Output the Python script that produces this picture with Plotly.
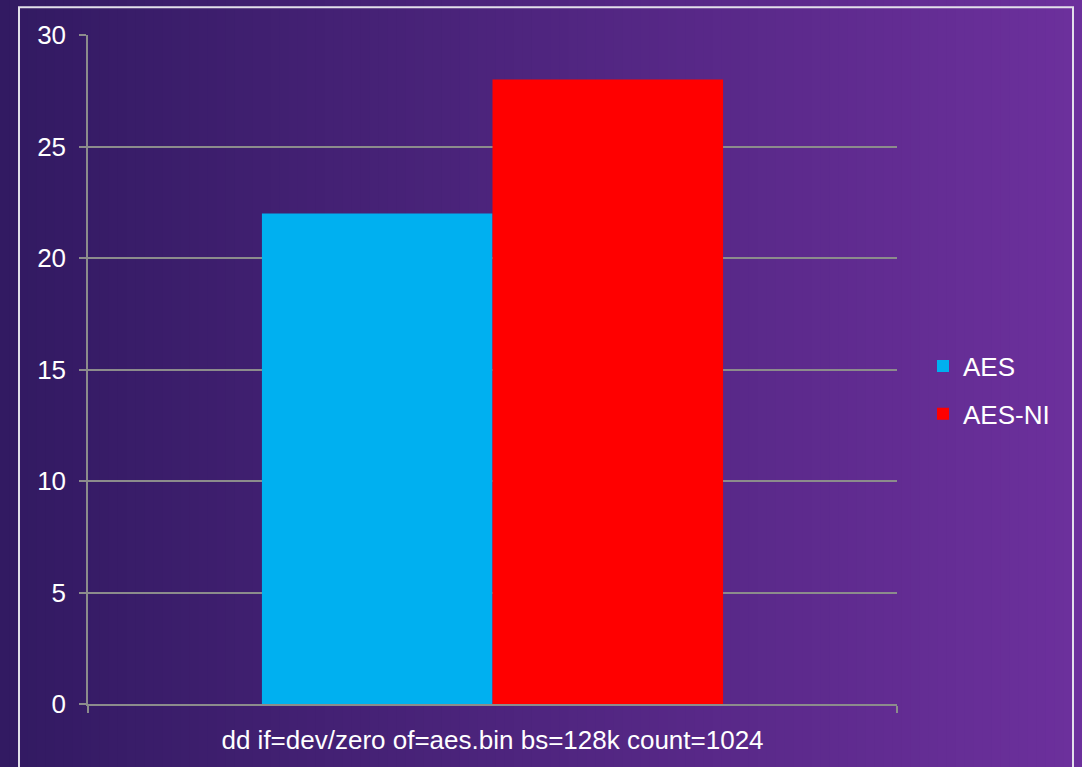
import plotly.graph_objects as go

categories = ["dd if=dev/zero of=aes.bin bs=128k count=1024"]
series_names = ["AES", "AES-NI"]
aes_values = [22]
aesni_values = [28]
series_colors = ["#00B0F0", "#FF0000"]
y_ticks = [0, 5, 10, 15, 20, 25, 30]

W, H = 1082, 767
L, R, T, B = 88, 185, 35, 60
pw, ph = W - L - R, H - T - B

def px_to_paper_x(px):
    return (px - L) / pw

def px_to_paper_y(py):
    return (H - B - py) / ph

fig = go.Figure()
for name, vals, col in zip(series_names, [aes_values, aesni_values], series_colors):
    fig.add_trace(go.Bar(x=categories, y=vals, name=name, legendgroup=name,
                         marker=dict(color=col, line=dict(width=0))))

# gradient background strips
shapes = []
c0 = (50, 26, 98)
c1 = (108, 48, 156)
n = 120
for i in range(n):
    f = i / (n - 1)
    c = tuple(round(a + (b - a) * f) for a, b in zip(c0, c1))
    x0 = W * i / n
    x1 = W * (i + 1) / n + 1
    shapes.append(dict(type="rect", xref="paper", yref="paper",
                       x0=px_to_paper_x(x0), x1=px_to_paper_x(x1),
                       y0=px_to_paper_y(H + 5), y1=px_to_paper_y(-5),
                       line=dict(width=0), fillcolor="rgb(%d,%d,%d)" % c, layer="below"))
# frame
shapes.append(dict(type="rect", xref="paper", yref="paper",
                   x0=px_to_paper_x(19), x1=px_to_paper_x(1073),
                   y0=px_to_paper_y(H + 10), y1=px_to_paper_y(7),
                   line=dict(width=2, color="#E2E0EA"), fillcolor="rgba(0,0,0,0)", layer="below"))

font = dict(family="Liberation Sans, Arial, sans-serif", size=26, color="white")

fig.update_layout(
    width=W, height=H,
    margin=dict(l=L, r=R, t=T, b=B, pad=0),
    paper_bgcolor="rgb(50,26,98)",
    plot_bgcolor="rgba(0,0,0,0)",
    font=font,
    barmode="group",
    bargap=0.43,
    bargroupgap=0,
    shapes=shapes,
    showlegend=True,
    legend=dict(x=px_to_paper_x(923), y=px_to_paper_y(344), xanchor="left", yanchor="top",
                bgcolor="rgba(0,0,0,0)", font=font, itemwidth=30,
                traceorder="grouped", tracegroupgap=11),
)
fig.update_xaxes(type="category", tickson="boundaries", ticks="outside", ticklen=7,
                 tickwidth=1.5, tickcolor="#8C8C8C", showline=True, linecolor="#8C8C8C",
                 linewidth=1.5, showgrid=False, tickfont=font, ticklabelstandoff=12)
fig.update_yaxes(range=[0, 30], tickvals=y_ticks, ticks="outside", ticklen=7, tickwidth=1.5,
                 tickcolor="#8C8C8C", showline=True, linecolor="#8C8C8C", linewidth=1.5,
                 showgrid=True, gridcolor="#8C8C8C", gridwidth=1.5, zeroline=False,
                 tickfont=font, ticklabelstandoff=8)

fig.write_html("out.html", config={"displayModeBar": False},
               post_script="document.body.style.margin='0';document.body.style.background='rgb(50,26,98)';")
